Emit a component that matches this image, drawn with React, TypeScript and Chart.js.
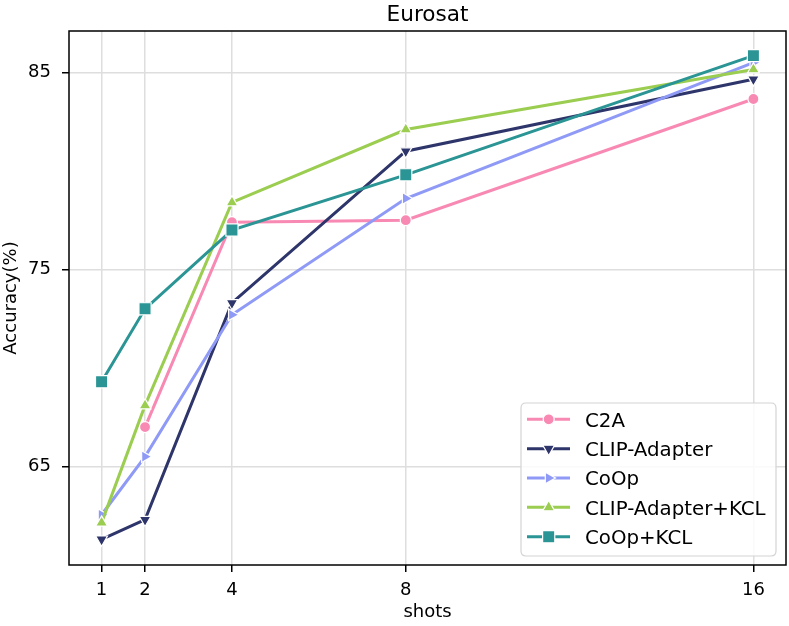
import React, { useEffect, useRef } from 'react';
import { Chart, registerables } from 'chart.js';

Chart.register(...registerables);

const shots = [1, 2, 4, 8, 16];
const yTickValues = [65, 75, 85];
const seriesNames = ['C2A', 'CLIP-Adapter', 'CoOp', 'CLIP-Adapter+KCL', 'CoOp+KCL'];
const c2a = [null, 67.0, 77.4, 77.5, 83.65];
const clipAdapter = [61.3, 62.3, 73.3, 81.0, 84.65];
const coop = [62.55, 65.5, 72.7, 78.6, 85.5];
const clipAdapterKcl = [62.15, 68.1, 78.4, 82.1, 85.15];
const coopKcl = [69.3, 73.0, 77.0, 79.8, 85.85];

const seriesValues = [c2a, clipAdapter, coop, clipAdapterKcl, coopKcl];
const colors = ['#f889b3', '#2e356a', '#8f9af6', '#9bcd50', '#2b9494'];
const pointStyles = ['circle', 'triangle', 'triangle', 'triangle', 'rect'];
const rotations = [0, 180, 90, 0, 0];
const radii = [5.5, 6.8, 6.8, 6.8, 8.6];

const FONT = "'DejaVu Sans', sans-serif";

function drawMarker(ctx: CanvasRenderingContext2D, style: string, rot: number, r: number, x: number, y: number, color: string) {
  ctx.save();
  ctx.fillStyle = color;
  ctx.strokeStyle = '#ffffff';
  ctx.lineWidth = 1.2;
  ctx.beginPath();
  if (style === 'circle') {
    ctx.arc(x, y, r, 0, Math.PI * 2);
  } else if (style === 'rect') {
    const s = Math.SQRT1_2 * r;
    ctx.rect(x - s, y - s, 2 * s, 2 * s);
  } else {
    let rad = (rot * Math.PI) / 180;
    ctx.moveTo(x + Math.sin(rad) * r, y - Math.cos(rad) * r);
    rad += (2 * Math.PI) / 3;
    ctx.lineTo(x + Math.sin(rad) * r, y - Math.cos(rad) * r);
    rad += (2 * Math.PI) / 3;
    ctx.lineTo(x + Math.sin(rad) * r, y - Math.cos(rad) * r);
    ctx.closePath();
  }
  ctx.fill();
  ctx.stroke();
  ctx.restore();
}

const decorPlugin = {
  id: 'decor',
  afterDraw(chart: any) {
    const ctx: CanvasRenderingContext2D = chart.ctx;
    const a = chart.chartArea;
    ctx.save();
    // frame
    ctx.strokeStyle = '#000000';
    ctx.lineWidth = 1.5;
    ctx.strokeRect(a.left, a.top, a.right - a.left, a.bottom - a.top);
    // title
    ctx.fillStyle = '#000000';
    ctx.font = `21.6px ${FONT}`;
    ctx.textAlign = 'center';
    ctx.textBaseline = 'alphabetic';
    ctx.fillText('Eurosat', (a.left + a.right) / 2, 21);
    // legend
    const bx = 521, by = 403, bw = 255, bh = 153, br = 5;
    ctx.beginPath();
    ctx.moveTo(bx + br, by);
    ctx.lineTo(bx + bw - br, by);
    ctx.quadraticCurveTo(bx + bw, by, bx + bw, by + br);
    ctx.lineTo(bx + bw, by + bh - br);
    ctx.quadraticCurveTo(bx + bw, by + bh, bx + bw - br, by + bh);
    ctx.lineTo(bx + br, by + bh);
    ctx.quadraticCurveTo(bx, by + bh, bx, by + bh - br);
    ctx.lineTo(bx, by + br);
    ctx.quadraticCurveTo(bx, by, bx + br, by);
    ctx.closePath();
    ctx.fillStyle = 'rgba(255,255,255,0.85)';
    ctx.fill();
    ctx.strokeStyle = '#d4d4d4';
    ctx.lineWidth = 1.2;
    ctx.stroke();
    chart.data.datasets.forEach((ds: any, i: number) => {
      const yy = 419.3 + i * 29.35;
      ctx.strokeStyle = ds.borderColor;
      ctx.lineWidth = 3;
      ctx.beginPath();
      ctx.moveTo(527, yy);
      ctx.lineTo(570, yy);
      ctx.stroke();
      drawMarker(ctx, ds.pointStyle, ds.pointRotation, ds.pointRadius, 548.7, yy, ds.backgroundColor);
      ctx.fillStyle = '#000000';
      ctx.font = `19.8px ${FONT}`;
      ctx.textAlign = 'left';
      ctx.textBaseline = 'alphabetic';
      ctx.fillText(ds.label, 585, yy + 7.2);
    });
    ctx.restore();
  },
};

export default function App() {
  const ref = useRef<HTMLCanvasElement>(null);
  useEffect(() => {
    document.body.style.margin = '0';
    const canvas = ref.current!;
    const datasets = seriesNames.map((name, i) => ({
      label: name,
      data: shots.map((s, j) => ({ x: s, y: seriesValues[i][j] })),
      borderColor: colors[i],
      backgroundColor: colors[i],
      borderWidth: 3,
      pointStyle: pointStyles[i],
      pointRotation: rotations[i],
      pointRadius: radii[i],
      pointBorderColor: '#ffffff',
      pointBorderWidth: 1.2,
      pointBackgroundColor: colors[i],
      tension: 0,
      spanGaps: false,
      order: seriesNames.length - i,
    }));
    const chart = new Chart(canvas, {
      type: 'line',
      data: { datasets },
      options: {
        responsive: false,
        animation: false,
        devicePixelRatio: 1,
        layout: { autoPadding: false, padding: { top: 31, right: 3, left: 0, bottom: 0 } },
        plugins: {
          legend: { display: false },
          title: { display: false },
          tooltip: { enabled: false },
        },
        scales: {
          x: {
            type: 'linear',
            min: 0.25,
            max: 16.75,
            afterBuildTicks: (s: any) => {
              s.ticks = shots.map((v) => ({ value: v }));
            },
            afterFit: (s: any) => {
              s.height = 61;
              s.paddingLeft = 0;
              s.paddingRight = 0;
            },
            ticks: {
              color: '#000',
              font: { family: FONT, size: 18 },
              padding: 8,
              autoSkip: false,
              maxRotation: 0,
              callback: (v: any) => String(v),
            },
            grid: {
              color: '#dedede',
              lineWidth: 1.5,
              tickColor: '#000',
              tickLength: 7,
              tickWidth: 1.5,
            },
            border: { display: false },
            title: {
              display: true,
              text: 'shots',
              color: '#000',
              font: { family: FONT, size: 18 },
              padding: { top: 0, bottom: 3 },
            },
          },
          y: {
            type: 'linear',
            min: 60.0,
            max: 87.1,
            afterBuildTicks: (s: any) => {
              s.ticks = yTickValues.map((v) => ({ value: v }));
            },
            afterFit: (s: any) => {
              s.width = 69;
              s.paddingTop = 0;
              s.paddingBottom = 0;
            },
            ticks: {
              color: '#000',
              font: { family: FONT, size: 18 },
              padding: 11,
              callback: (v: any) => String(v),
            },
            grid: {
              color: '#dedede',
              lineWidth: 1.5,
              tickColor: '#000',
              tickLength: 7,
              tickWidth: 1.5,
            },
            border: { display: false },
            title: {
              display: true,
              text: 'Accuracy(%)',
              color: '#000',
              font: { family: FONT, size: 18 },
              padding: { top: 1, bottom: 0 },
            },
          },
        },
      },
      plugins: [decorPlugin],
    } as any);
    return () => chart.destroy();
  }, []);
  return (
    <div style={{ position: 'absolute', left: 0, top: 0, width: 789, height: 626 }}>
      <canvas ref={ref} width={789} height={626} style={{ width: 789, height: 626 }} />
    </div>
  );
}
